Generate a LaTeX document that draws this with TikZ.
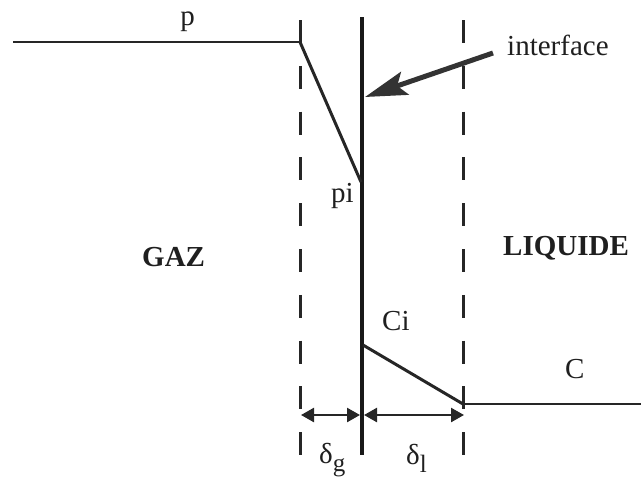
\documentclass[tikz,border=0pt]{standalone}
\usepackage{fontspec}
\setmainfont{Liberation Serif}
\usetikzlibrary{arrows.meta}
\begin{document}
\begin{tikzpicture}[x=1pt,y=-1pt,
  lbl/.style={inner sep=0pt, font=\fontsize{29}{34}\selectfont, text=black!88},
  boldlbl/.style={inner sep=0pt, font=\fontsize{29}{34}\selectfont\bfseries, text=black!88},
  profile/.style={line width=3pt, draw=black!85, line join=round},
  levelline/.style={line width=2.5pt, draw=black!85},
  filmline/.style={line width=3pt, draw=black!85, dash pattern=on 23pt off 22.8pt},
  iface/.style={line width=4.5pt, draw=black!90},
  thickarrow/.style={line width=5pt, draw=black!80, -{Stealth[length=42pt,width=24pt,inset=8pt]}},
  dimarrow/.style={line width=2.5pt, draw=black!85, {Triangle[length=13pt,width=14pt]}-{Triangle[length=13pt,width=14pt]}}
]
\useasboundingbox (0,0) rectangle (641,482);

% coordinates
\coordinate (pstart) at (13,42);
\coordinate (pend) at (300,42);
\coordinate (pi) at (361,182);
\coordinate (ci) at (363,345);
\coordinate (cend) at (463,404);
\coordinate (cfar) at (641,404);
\coordinate (gtop) at (300,20);
\coordinate (gbot) at (300,456);
\coordinate (ltop) at (463,20);
\coordinate (lbot) at (463,456);
\coordinate (itop) at (362,17);
\coordinate (ibot) at (362,455);
\coordinate (atail) at (493,53);
\coordinate (atip) at (365,97);
\coordinate (dg1) at (301,415);
\coordinate (dg2) at (360,415);
\coordinate (dl1) at (364,415);
\coordinate (dl2) at (464,415);

% film boundaries
\draw[filmline] (gtop) -- (gbot);
\draw[filmline] (ltop) -- (lbot);

% interface
\draw[iface] (itop) -- (ibot);

% profiles
\draw[levelline] (pstart) -- (pend);
\draw[profile] (pend) -- (pi);
\draw[profile] (ci) -- (cend);
\draw[levelline] (cend) -- (cfar);

% interface arrow
\draw[thickarrow] (atail) -- (atip);

% thickness arrows
\draw[dimarrow] (dg1) -- (dg2);
\draw[dimarrow] (dl1) -- (dl2);

% labels
\node[lbl, anchor=base] (plab) at (187.5,25) {p};
\node[lbl, anchor=base west] (ilab) at (507,55) {interface};
\node[lbl, anchor=base west] (pilab) at (331,202) {pi};
\node[boldlbl, anchor=base west] (gaz) at (142,266) {GAZ};
\node[boldlbl, anchor=base west] (liq) at (503,255) {LIQUIDE};
\node[lbl, anchor=base west] (cilab) at (382,330) {Ci};
\node[lbl, anchor=base west] (clab) at (565,378) {C};
\node[lbl, anchor=base west] (dglab) at (319,463) {δ\raisebox{-0.3em}{\fontsize{25}{30}\selectfont g}};
\node[lbl, anchor=base west] (dllab) at (406,464) {δ\raisebox{-0.3em}{\fontsize{25}{30}\selectfont l}};
\end{tikzpicture}
\end{document}
